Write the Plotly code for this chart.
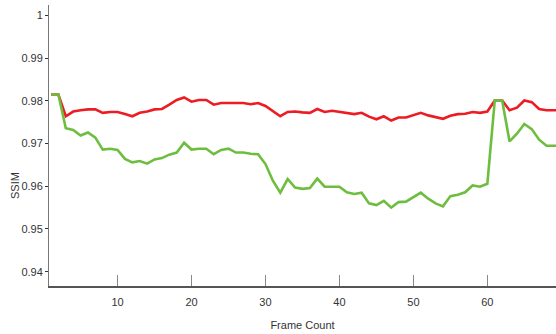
import plotly.graph_objects as go

# Frame indices (1..70)
frames = list(range(1, 71))

# SSIM per frame, method A (red)
ssim_red = [
    0.9815, 0.9815, 0.9764, 0.9775, 0.9778, 0.9780, 0.9780, 0.9772, 0.9774, 0.9774,
    0.9769, 0.9764, 0.9772, 0.9775, 0.9780, 0.9781, 0.9791, 0.9802, 0.9808, 0.9798,
    0.9802, 0.9802, 0.9791, 0.9795, 0.9795, 0.9795, 0.9795, 0.9792, 0.9795, 0.9788,
    0.9775, 0.9764, 0.9774, 0.9775, 0.9773, 0.9772, 0.9781, 0.9774, 0.9777, 0.9774,
    0.9772, 0.9769, 0.9772, 0.9763, 0.9757, 0.9764, 0.9754, 0.9761, 0.9761, 0.9766,
    0.9772, 0.9766, 0.9762, 0.9758, 0.9765, 0.9769, 0.9770, 0.9774, 0.9772, 0.9775,
    0.9801, 0.9801, 0.9778, 0.9784, 0.9801, 0.9797, 0.9781, 0.9778, 0.9778, 0.9778,
]

# SSIM per frame, method B (green)
ssim_green = [
    0.9815, 0.9815, 0.9736, 0.9732, 0.9719, 0.9726, 0.9714, 0.9686, 0.9688, 0.9685,
    0.9664, 0.9656, 0.9659, 0.9653, 0.9663, 0.9666, 0.9674, 0.9679, 0.9702, 0.9686,
    0.9688, 0.9688, 0.9675, 0.9685, 0.9688, 0.9679, 0.9679, 0.9676, 0.9675, 0.9652,
    0.9613, 0.9585, 0.9617, 0.9597, 0.9594, 0.9596, 0.9618, 0.9599, 0.9599, 0.9599,
    0.9586, 0.9582, 0.9585, 0.9560, 0.9556, 0.9566, 0.9550, 0.9563, 0.9564, 0.9574,
    0.9585, 0.9571, 0.9560, 0.9553, 0.9577, 0.9580, 0.9586, 0.9602, 0.9599, 0.9606,
    0.9801, 0.9801, 0.9705, 0.9723, 0.9746, 0.9734, 0.9709, 0.9695, 0.9695, 0.9695,
]

y_ticks = [0.94, 0.95, 0.96, 0.97, 0.98, 0.99, 1]
y_tick_text = ["0.94", "0.95", "0.96", "0.97", "0.98", "0.99", "1"]
x_ticks = [10, 20, 30, 40, 50, 60]

tick_font = dict(family="Liberation Sans Narrow, Liberation Sans, Arial", size=11, color="#333333")

fig = go.Figure()
fig.add_trace(go.Scatter(
    x=frames, y=ssim_red, mode="lines",
    line=dict(color="#ED1C24", width=2.6), showlegend=False,
))
fig.add_trace(go.Scatter(
    x=frames, y=ssim_green, mode="lines",
    line=dict(color="#6DBE3F", width=2.6), showlegend=False,
))

fig.update_layout(
    width=556, height=334,
    margin=dict(l=49, r=0, t=5, b=48),
    paper_bgcolor="white", plot_bgcolor="white",
    xaxis=dict(
        range=[0.73, 69.28],
        tickvals=x_ticks,
        ticks="inside", ticklen=11, tickwidth=1, tickcolor="#888888",
        showline=True, linecolor="#555555", linewidth=2,
        showgrid=False, zeroline=False,
        tickfont=tick_font, ticklabelstandoff=5,
        title=dict(text="Frame Count", font=tick_font, standoff=14),
    ),
    yaxis=dict(
        range=[0.93665, 1.00245],
        tickvals=y_ticks, ticktext=y_tick_text,
        ticks="outside", ticklen=3, tickwidth=1, tickcolor="#333333",
        showline=True, linecolor="#777777", linewidth=1,
        showgrid=False, zeroline=False,
        tickfont=tick_font,
    ),
)

# y-axis label, placed by pixel position relative to the plot area
plot_l, plot_r, plot_t, plot_b = 49, 556, 5, 286
fig.add_annotation(
    text="SSIM", showarrow=False, textangle=-90,
    xref="paper", yref="paper",
    x=(15 - plot_l) / (plot_r - plot_l), y=(plot_b - 186) / (plot_b - plot_t),
    xanchor="center", yanchor="middle",
    font=dict(family="Liberation Sans, Arial", size=11, color="#333333"),
)

fig.write_html("out.html")
